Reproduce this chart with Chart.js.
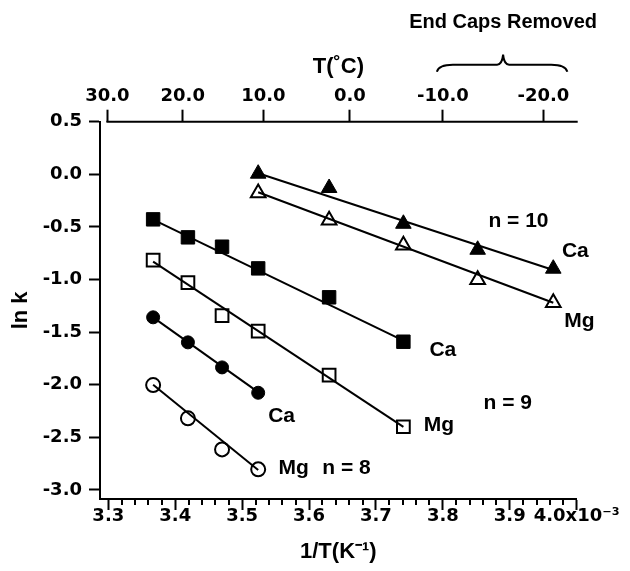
<!DOCTYPE html>
<html>
<head>
<meta charset="utf-8">
<title>ln k vs 1/T</title>
<script src="https://cdn.jsdelivr.net/npm/chart.js@4.4.1/dist/chart.umd.min.js"></script>
<style>
  html, body { margin: 0; padding: 0; background: #fff; }
  #chart { display: block; }
</style>
</head>
<body>
<canvas id="chart" width="630" height="571"></canvas>
<script>
/* global Chart */
// 1/T in units of 1e-3 K^-1
const xN10 = [3.524, 3.630, 3.741, 3.852, 3.965];
const xN9 = [3.367, 3.419, 3.470, 3.524, 3.630, 3.741];
const xN8 = [3.367, 3.419, 3.470, 3.524];

// ln k values
const caN10 = [0.006, -0.130, -0.470, -0.717, -0.897];
const mgN10 = [-0.178, -0.437, -0.675, -1.002, -1.221];
const caN9 = [-0.428, -0.599, -0.688, -0.894, -1.169, -1.591];
const mgN9 = [-0.815, -1.030, -1.344, -1.490, -1.908, -2.399];
const caN8 = [-1.359, -1.597, -1.835, -2.076];
const mgN8 = [-2.003, -2.319, -2.614, -2.804];

// fit line ends (first x, last x)
const fitCaN10 = [0.01, -0.91];
const fitMgN10 = [-0.17, -1.22];
const fitCaN9 = [-0.43, -1.58];
const fitMgN9 = [-0.83, -2.40];
const fitCaN8 = [-1.36, -2.07];
const fitMgN8 = [-2.00, -2.81];

// axes
const xTicks = [3.3, 3.4, 3.5, 3.6, 3.7, 3.8, 3.9, 4.0];
const xTickLabels = ['3.3', '3.4', '3.5', '3.6', '3.7', '3.8', '3.9', '4.0x10\u207B\u00B3'];
const yTicks = [-3.0, -2.5, -2.0, -1.5, -1.0, -0.5, 0.0, 0.5];
const yTickLabels = ['-3.0', '-2.5', '-2.0', '-1.5', '-1.0', '-0.5', '0.0', '0.5'];
const topTemps = [30, 20, 10, 0, -10, -20];
const topTempLabels = ['30.0', '20.0', '10.0', '0.0', '-10.0', '-20.0'];

// text notes on the plot
const noteText = ['n = 10', 'Ca', 'Mg', 'Ca', 'Mg', 'n = 9', 'Ca', 'Mg', 'n = 8'];
const noteX = [3.913, 3.998, 4.004, 3.800, 3.794, 3.897, 3.559, 3.577, 3.656];
const noteY = [-0.444, -0.729, -1.394, -1.670, -2.383, -2.175, -2.298, -2.795, -2.789];

const braceFrom = 3.791;
const braceTip = 3.890;
const braceTo = 3.986;

const X_MIN = 3.2876;
const X_MAX = 4.0;
const tickFont = { family: '"DejaVu Sans", sans-serif', size: 18, weight: 'bold', lineHeight: 1 };
const titleFont = { family: '"Liberation Sans", Arial, sans-serif', size: 22, weight: 'bold' };
const noteFont = 'bold 21px "Liberation Sans", Arial, sans-serif';

const pts = (xs, ys) => xs.map((x, i) => ({ x, y: ys[i] }));
const ends = (xs, fit) => [{ x: xs[0], y: fit[0] }, { x: xs[xs.length - 1], y: fit[1] }];
const invT = (c) => 1000 / (c + 273.15);

function fitLine(data) {
  return { data, showLine: true, borderColor: '#000', borderWidth: 2, pointRadius: 0, fill: false };
}

function markers(data, style, filled, radius) {
  return {
    data,
    showLine: false,
    pointStyle: style,
    pointRadius: radius,
    pointBackgroundColor: filled ? '#000' : 'rgba(0,0,0,0)',
    pointBorderColor: '#000',
    pointBorderWidth: filled ? 1 : 2,
  };
}

const decor = {
  id: 'decor',
  afterDraw(chart) {
    const { ctx, chartArea, scales } = chart;
    const x = scales.x;
    const y = scales.y;
    ctx.save();
    ctx.strokeStyle = '#000';
    ctx.fillStyle = '#000';
    ctx.lineWidth = 2;

    // top axis line starts at the 30 C tick
    ctx.beginPath();
    ctx.moveTo(x.getPixelForValue(invT(topTemps[0])) - 1, chartArea.top);
    ctx.lineTo(chartArea.right + 1, chartArea.top);
    ctx.stroke();

    // minor ticks on the bottom axis
    ctx.beginPath();
    for (let i = 0; i <= 35; i++) {
      if (i % 5 === 0) continue;
      const px = Math.round(x.getPixelForValue(3.3 + i * 0.02));
      ctx.moveTo(px, chartArea.bottom);
      ctx.lineTo(px, chartArea.bottom + 6);
    }
    ctx.stroke();

    // brace over the end-caps-removed range
    const x0 = x.getPixelForValue(braceFrom);
    const xt = x.getPixelForValue(braceTip);
    const x1 = x.getPixelForValue(braceTo);
    const yEnd = chartArea.top - 50;
    const yH = chartArea.top - 57;
    const yTip = chartArea.top - 67;
    ctx.beginPath();
    ctx.moveTo(x0, yEnd);
    ctx.quadraticCurveTo(x0 + 2, yH, x0 + 16, yH);
    ctx.lineTo(xt - 6, yH);
    ctx.quadraticCurveTo(xt - 1, yH, xt, yTip);
    ctx.quadraticCurveTo(xt + 1, yH, xt + 6, yH);
    ctx.lineTo(x1 - 16, yH);
    ctx.quadraticCurveTo(x1 - 2, yH, x1, yEnd);
    ctx.stroke();

    ctx.textAlign = 'center';
    ctx.textBaseline = 'middle';
    ctx.font = 'bold 20px "Liberation Sans", Arial, sans-serif';
    ctx.fillText('End Caps Removed', xt, chartArea.top - 99);

    ctx.font = noteFont;
    noteText.forEach((t, i) => {
      ctx.fillText(t, x.getPixelForValue(noteX[i]), y.getPixelForValue(noteY[i]));
    });
    ctx.restore();
  },
};

new Chart(document.getElementById('chart'), {
  type: 'scatter',
  data: {
    datasets: [
      fitLine(ends(xN10, fitCaN10)),
      fitLine(ends(xN10, fitMgN10)),
      fitLine(ends(xN9, fitCaN9)),
      fitLine(ends(xN9, fitMgN9)),
      fitLine(ends(xN8, fitCaN8)),
      fitLine(ends(xN8, fitMgN8)),
      markers(pts(xN10, caN10), 'triangle', true, 9),
      markers(pts(xN10, mgN10), 'triangle', false, 8.5),
      markers(pts(xN9, caN9), 'rect', true, 9.5),
      markers(pts(xN9, mgN9), 'rect', false, 9),
      markers(pts(xN8, caN8), 'circle', true, 6.5),
      markers(pts(xN8, mgN8), 'circle', false, 7),
    ],
  },
  options: {
    responsive: false,
    animation: false,
    events: [],
    layout: { padding: { left: 0, top: 0, right: 53.3, bottom: 0 } },
    plugins: { legend: { display: false }, tooltip: { enabled: false } },
    scales: {
      x: {
        type: 'linear',
        position: 'bottom',
        min: X_MIN,
        max: X_MAX,
        afterBuildTicks: (s) => { s.ticks = xTicks.map((v) => ({ value: v })); },
        afterFit: (s) => { s.height = 72; },
        ticks: { callback: (v, i) => xTickLabels[i], font: tickFont, color: '#000', padding: -3, autoSkip: false, maxRotation: 0 },
        grid: { drawOnChartArea: false, drawTicks: true, tickLength: 11, tickWidth: 2, tickColor: '#000' },
        border: { display: true, color: '#000', width: 2 },
        title: { display: true, text: '1/T(K\u207B\u00B9)', font: titleFont, color: '#000', padding: { top: 0, bottom: 6 } },
      },
      x2: {
        type: 'linear',
        position: 'top',
        min: X_MIN,
        max: X_MAX,
        afterBuildTicks: (s) => { s.ticks = topTemps.map((t) => ({ value: invT(t) })); },
        afterFit: (s) => { s.height = 121.7; },
        ticks: { callback: (v, i) => topTempLabels[i], font: tickFont, color: '#000', padding: 4.4, autoSkip: false, maxRotation: 0 },
        grid: { drawOnChartArea: false, drawTicks: true, tickLength: 12, tickWidth: 2, tickColor: '#000' },
        border: { display: false },
        title: { display: true, text: 'T(\u02DAC)', font: titleFont, color: '#000', padding: { top: 54, bottom: 0 } },
      },
      y: {
        type: 'linear',
        position: 'left',
        min: -3.0856,
        max: 0.5,
        afterBuildTicks: (s) => { s.ticks = yTicks.map((v) => ({ value: v })); },
        afterFit: (s) => { s.width = 100; },
        ticks: { callback: (v, i) => yTickLabels[i], font: tickFont, color: '#000', padding: 7, autoSkip: false },
        grid: { drawOnChartArea: false, drawTicks: true, tickLength: 11, tickWidth: 2, tickColor: '#000' },
        border: { display: true, color: '#000', width: 2 },
        title: { display: true, text: 'ln k', font: titleFont, color: '#000', padding: { top: 8, bottom: 0 } },
      },
    },
  },
  plugins: [decor],
});
</script>
</body>
</html>
